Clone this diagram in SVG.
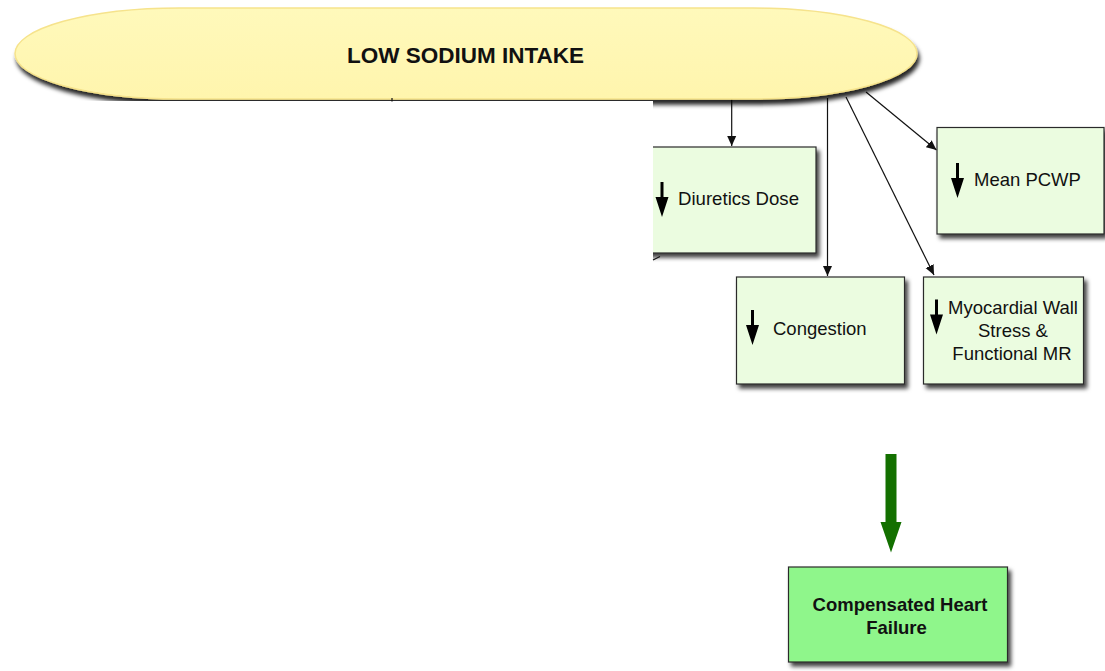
<svg xmlns="http://www.w3.org/2000/svg" width="1105" height="671" viewBox="0 0 1105 671">
<style>
.box{fill:#ebfce0;stroke:#2b2b2b;stroke-width:1.2;filter:url(#sh)}
.lbl{font-family:"Liberation Sans",Arial,sans-serif;font-size:18.5px;fill:#111}
.bold{font-weight:bold}
.conn{stroke:#111;stroke-width:1.2;fill:none;marker-end:url(#ah)}
.stub{stroke:#111;stroke-width:1.2;fill:none}
.glyph{fill:#000}
</style>
<defs>
<filter id="sh" x="-10%" y="-10%" width="130%" height="140%">
<feDropShadow dx="3" dy="4" stdDeviation="2" flood-color="#000" flood-opacity="0.75"/>
</filter>
<filter id="shE" x="-5%" y="-10%" width="110%" height="130%">
<feDropShadow dx="2" dy="5" stdDeviation="2" flood-color="#000" flood-opacity="0.85"/>
</filter>
<linearGradient id="yg" x1="0" y1="0" x2="0" y2="1">
<stop offset="0" stop-color="#fff9bb"/>
<stop offset="1" stop-color="#fff5ad"/>
</linearGradient>
<marker id="ah" viewBox="0 0 10 10" refX="10" refY="5" markerWidth="10" markerHeight="10" markerUnits="userSpaceOnUse" orient="auto">
<path d="M0,0.5 L10,5 L0,9.5 Z" fill="#111"/>
</marker>
<path id="dn" d="M-1.5,0 H1.5 V15 H6.5 L0,35 L-6.5,15 H-1.5 Z"/>
</defs>
<rect width="1105" height="671" fill="#fff"/>

<g id="connectors">
<line class="conn" x1="731.7" y1="99" x2="731.7" y2="146"/>
<line class="conn" x1="827.5" y1="98" x2="827.5" y2="276"/>
<line class="conn" x1="846" y1="97" x2="934" y2="275"/>
<line class="conn" x1="866" y1="92" x2="936.5" y2="150"/>
</g>

<g id="low-sodium-intake">
<rect x="15" y="8" width="902" height="91" rx="165" ry="45.5" fill="url(#yg)" stroke="#f6e38c" stroke-width="1.5" filter="url(#shE)"/>
<text class="lbl bold" x="465.5" y="63" text-anchor="middle" style="font-size:22.5px">LOW SODIUM INTAKE</text>
</g>

<!-- panel edge that hides the left part below the oval -->
<rect x="0" y="101" width="653" height="570" fill="#fff"/>
<line class="stub" x1="392" y1="98" x2="392" y2="101.5"/>

<g id="diuretics-dose">
<rect class="box" x="645" y="147" width="171" height="106"/>
<rect x="640" y="140" width="13" height="125" fill="#fff"/>
<line class="stub" x1="653" y1="260" x2="660" y2="256.5"/>
<use href="#dn" class="glyph" x="662" y="182"/>
<text class="lbl" x="678" y="204.5" textLength="121" lengthAdjust="spacingAndGlyphs">Diuretics Dose</text>
</g>

<g id="mean-pcwp">
<rect class="box" x="937" y="127.5" width="167" height="106.5"/>
<use href="#dn" class="glyph" x="957.5" y="163"/>
<text class="lbl" x="974" y="186">Mean PCWP</text>
</g>

<g id="congestion">
<rect class="box" x="736.5" y="277" width="168" height="107"/>
<use href="#dn" class="glyph" x="752.5" y="310"/>
<text class="lbl" x="773" y="334.5">Congestion</text>
</g>

<g id="myocardial-wall-stress">
<rect class="box" x="923.5" y="277" width="160" height="107"/>
<use href="#dn" class="glyph" x="936.5" y="299.5"/>
<text class="lbl" x="1013" y="313.5" text-anchor="middle">Myocardial Wall</text>
<text class="lbl" x="1013" y="336.5" text-anchor="middle">Stress &amp;</text>
<text class="lbl" x="1012" y="359.5" text-anchor="middle">Functional MR</text>
</g>

<g id="green-arrow">
<path d="M885.5,454 H896.5 V522 H901.5 L891,552.5 L880.5,522 H885.5 Z" fill="#137000"/>
</g>

<g id="compensated-heart-failure">
<rect class="box" x="788.5" y="567" width="219" height="95" style="fill:#8ff68b"/>
<text class="lbl bold" x="900" y="611" text-anchor="middle">Compensated Heart</text>
<text class="lbl bold" x="896.5" y="634" text-anchor="middle">Failure</text>
</g>
</svg>
